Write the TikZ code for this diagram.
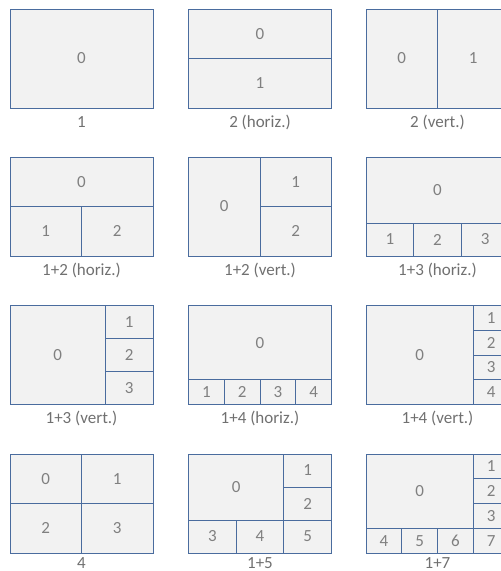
\documentclass[tikz,border=0pt]{standalone}
\usepackage{fontspec}
\setmainfont{Carlito}
\definecolor{cellborder}{RGB}{74,108,158}
\definecolor{cellfill}{RGB}{242,242,242}
\definecolor{celltext}{RGB}{128,128,128}
\definecolor{captext}{RGB}{112,112,112}
\newcommand\mycell[6]{\node[cell,minimum width=#4pt,minimum height=#5pt] (#1) at ({#2+#4/2},{#3+#5/2}) {#6};}
\newcommand\mycap[4]{\node[captionlabel] (#1) at (#2,#3) {#4};}
\begin{document}
\begin{tikzpicture}[x=1pt,y=-1pt,
  cell/.style={draw=cellborder,fill=cellfill,line width=1pt,rectangle,inner sep=0pt,outer sep=0pt,
    text=celltext,font=\fontsize{17}{20}\selectfont},
  captionlabel/.style={inner sep=0pt,text=captext,font=\fontsize{17}{20}\selectfont}]
\useasboundingbox (0,0) rectangle (501,571);
\clip (0,0) rectangle (501,571);
% Row 1
\mycell{a0}{10}{9}{143}{99}{0}
\mycap{alab}{81.5}{122}{1}
\mycell{b0}{188.5}{9}{143}{49.5}{0}
\mycell{b1}{188.5}{58.5}{143}{49.5}{1}
\mycap{blab}{260}{122}{2 (horiz.)}
\mycell{c0}{366}{9}{71.5}{99}{0}
\mycell{c1}{437.5}{9}{71.5}{99}{1}
\mycap{clab}{437.5}{122}{2 (vert.)}
% Row 2
\mycell{d0}{10}{157}{143}{49.5}{0}
\mycell{d1}{10}{206.5}{71.5}{49.5}{1}
\mycell{d2}{81.5}{206.5}{71.5}{49.5}{2}
\mycap{dlab}{81.5}{270}{1+2 (horiz.)}
\mycell{e0}{188.5}{157}{71.5}{99}{0}
\mycell{e1}{260}{157}{71.5}{49.5}{1}
\mycell{e2}{260}{206.5}{71.5}{49.5}{2}
\mycap{elab}{260}{270}{1+2 (vert.)}
\mycell{f0}{366}{157}{143}{66}{0}
\mycell{f1}{366}{223}{47.667}{33}{1}
\mycell{f2}{413.667}{223}{47.667}{33}{2}
\mycell{f3}{461.333}{223}{47.667}{33}{3}
\mycap{flab}{437.5}{270}{1+3 (horiz.)}
% Row 3
\mycell{g0}{10}{305.5}{95.333}{99}{0}
\mycell{g1}{105.333}{305.5}{47.667}{33}{1}
\mycell{g2}{105.333}{338.5}{47.667}{33}{2}
\mycell{g3}{105.333}{371.5}{47.667}{33}{3}
\mycap{glab}{81.5}{418.5}{1+3 (vert.)}
\mycell{h0}{188.5}{305.5}{143}{74.25}{0}
\mycell{h1}{188.5}{379.75}{35.75}{24.75}{1}
\mycell{h2}{224.25}{379.75}{35.75}{24.75}{2}
\mycell{h3}{260}{379.75}{35.75}{24.75}{3}
\mycell{h4}{295.75}{379.75}{35.75}{24.75}{4}
\mycap{hlab}{260}{418.5}{1+4 (horiz.)}
\mycell{i0}{366}{305.5}{107.25}{99}{0}
\mycell{i1}{473.25}{305.5}{35.75}{24.75}{1}
\mycell{i2}{473.25}{330.25}{35.75}{24.75}{2}
\mycell{i3}{473.25}{355}{35.75}{24.75}{3}
\mycell{i4}{473.25}{379.75}{35.75}{24.75}{4}
\mycap{ilab}{437.5}{418.5}{1+4 (vert.)}
% Row 4
\mycell{j0}{10}{454}{71.5}{49.5}{0}
\mycell{j1}{81.5}{454}{71.5}{49.5}{1}
\mycell{j2}{10}{503.5}{71.5}{49.5}{2}
\mycell{j3}{81.5}{503.5}{71.5}{49.5}{3}
\mycap{jlab}{81.5}{563.5}{4}
\mycell{k0}{188.5}{454}{95.333}{66}{0}
\mycell{k1}{283.833}{454}{47.667}{33}{1}
\mycell{k2}{283.833}{487}{47.667}{33}{2}
\mycell{k3}{188.5}{520}{47.667}{33}{3}
\mycell{k4}{236.167}{520}{47.667}{33}{4}
\mycell{k5}{283.833}{520}{47.667}{33}{5}
\mycap{klab}{260}{563.5}{1+5}
\mycell{l0}{366}{454}{107.25}{74.25}{0}
\mycell{l1}{473.25}{454}{35.75}{24.75}{1}
\mycell{l2}{473.25}{478.75}{35.75}{24.75}{2}
\mycell{l3}{473.25}{503.5}{35.75}{24.75}{3}
\mycell{l4}{366}{528.25}{35.75}{24.75}{4}
\mycell{l5}{401.75}{528.25}{35.75}{24.75}{5}
\mycell{l6}{437.5}{528.25}{35.75}{24.75}{6}
\mycell{l7}{473.25}{528.25}{35.75}{24.75}{7}
\mycap{llab}{437.5}{563.5}{1+7}
\end{tikzpicture}
\end{document}
